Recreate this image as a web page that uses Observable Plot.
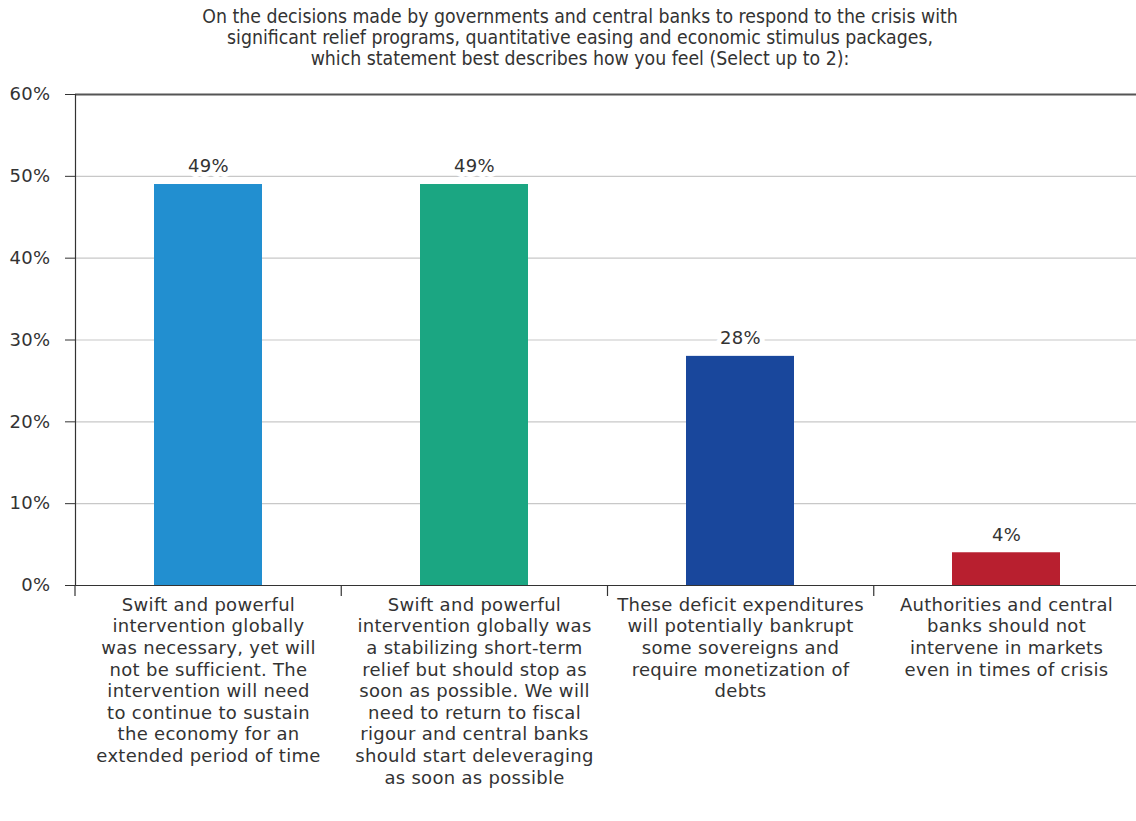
<!DOCTYPE html>
<html>
<head>
<meta charset="utf-8">
<script src="https://cdn.jsdelivr.net/npm/d3@7"></script>
<script src="https://cdn.jsdelivr.net/npm/@observablehq/plot@0.6"></script>
<style>
  body { margin: 0; background: #fff; }
  #title { font-family: "DejaVu Sans Condensed", "DejaVu Sans", sans-serif; font-stretch: condensed; font-size: 19.3px; line-height: 21px; color: #333; text-align: center; padding-top: 6px; padding-left: 24px; width: 1112px; height: 63px; }
  #chart svg { display: block; overflow: hidden; }
  #chart svg text { letter-spacing: 0.3px; }
</style>
</head>
<body>
<div id="title">On the decisions made by governments and central banks to respond to the crisis with<br>significant relief programs, quantitative easing and economic stimulus packages,<br>which statement best describes how you feel (Select up to 2):</div>
<div id="chart"></div>
<script>
const categories = ["A", "B", "C", "D"];
const values = [0.49, 0.49, 0.28, 0.04];
const colors = ["#228fd0", "#1ba682", "#19479c", "#b81f2f"];
const tickLabels = [
  "Swift and powerful\nintervention globally\nwas necessary, yet will\nnot be sufficient. The\nintervention will need\nto continue to sustain\nthe economy for an\nextended period of time",
  "Swift and powerful\nintervention globally was\na stabilizing short-term\nrelief but should stop as\nsoon as possible. We will\nneed to return to fiscal\nrigour and central banks\nshould start deleveraging\nas soon as possible",
  "These deficit expenditures\nwill potentially bankrupt\nsome sovereigns and\nrequire monetization of\ndebts",
  "Authorities and central\nbanks should not\nintervene in markets\neven in times of crisis"
];
const yTicks = [0, 0.1, 0.2, 0.3, 0.4, 0.5, 0.6];

const data = categories.map((c, i) => ({cat: c, value: values[i], color: colors[i], label: tickLabels[i]}));

const boundaryTicks = (index, scales, vals, dimensions) => {
  const {marginLeft, marginRight, width} = dimensions;
  const n = categories.length;
  const step = (width - marginLeft - marginRight) / n;
  const y0 = scales.y(0);
  const g = d3.create("svg:g").attr("stroke", "#333").attr("stroke-width", 1.2);
  for (let i = 0; i < n; i++) {
    const x = marginLeft + i * step;
    g.append("line").attr("x1", x).attr("x2", x).attr("y1", y0).attr("y2", y0 + 11);
  }
  return g.node();
};

const fontFam = "'DejaVu Sans', sans-serif";

const chart = Plot.plot({
  width: 1136,
  height: 752,
  marginTop: 25,
  marginLeft: 75,
  marginRight: -4,
  marginBottom: 236,
  style: {fontFamily: fontFam, fontSize: "18px", color: "#333", background: "#fff"},
  x: {domain: categories, paddingInner: 0.593, paddingOuter: 0.2965, axis: null},
  y: {domain: [0, 0.6], axis: null},
  marks: [
    Plot.ruleY(yTicks.slice(1, -1), {stroke: "#c8c8c8", strokeWidth: 1.2}),
    Plot.ruleY([0.6], {stroke: "#555", strokeWidth: 2}),
    Plot.barY(data, {x: "cat", y: "value", fill: "color"}),
    Plot.text(data, {x: "cat", y: "value", text: d => Math.round(d.value * 100) + "%", dy: -18, fill: "#333", fontSize: 18, stroke: "white", strokeWidth: 10, paintOrder: "stroke"}),
    Plot.axisY({ticks: yTicks, tickFormat: d => Math.round(d * 100) + "%", tickSize: 10, tickPadding: 15, fontSize: 18, stroke: "#333", color: "#333", label: null}),
    Plot.frame({anchor: "left", stroke: "#333", strokeWidth: 1.2}),
    Plot.ruleY([0], {stroke: "#333", strokeWidth: 1.2}),
    boundaryTicks,
    Plot.text(data, {x: "cat", y: 0, text: "label", lineAnchor: "top", dy: 10, fontSize: 18, lineHeight: 1.2, fill: "#333"})
  ]
});
document.getElementById("chart").appendChild(chart);
</script>
</body>
</html>
